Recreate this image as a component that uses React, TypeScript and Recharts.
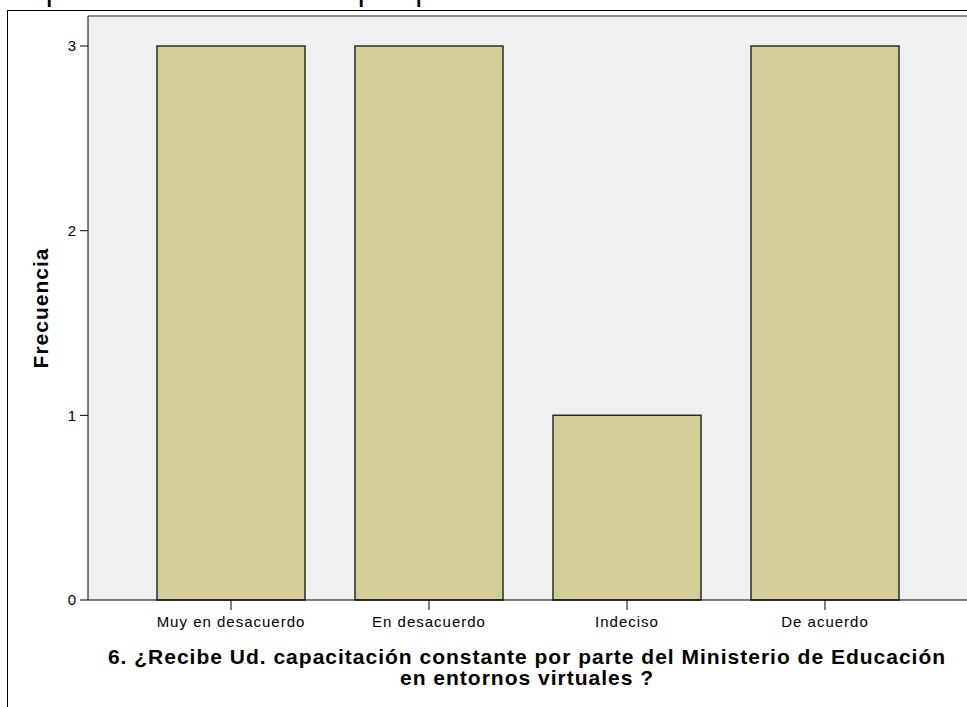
import React from "react";
import { BarChart, Bar, XAxis, YAxis, CartesianGrid, ReferenceLine, Customized } from "recharts";

const categories = ["Muy en desacuerdo", "En desacuerdo", "Indeciso", "De acuerdo"];
const frequencies = [3, 3, 1, 3];
const yTicks = [0, 1, 2, 3];
const yMax = 3.1625;
const topTitle = "Capacitación constante por parte del Ministerio de Educación";
const xTitleLines = [
  "6. ¿Recibe Ud. capacitación constante por parte del Ministerio de Educación",
  "en entornos virtuales ?",
];
const yTitle = "Frecuencia";

const data = categories.map((c, i) => ({ name: c, value: frequencies[i] }));

const FONT = "'Liberation Sans', Arial, Helvetica, sans-serif";

const XTitle = (props: any) => {
  const vb = props.viewBox || {};
  const cx = vb.x + vb.width / 2 - 1;
  return (
    <g>
      {xTitleLines.map((t, i) => (
        <text
          key={i}
          x={cx}
          y={vb.y + 64 + i * 21}
          textAnchor="middle"
          fontFamily={FONT}
          fontWeight="bold"
          fontSize={21}
          letterSpacing={1}
          fill="#000"
        >
          {t}
        </text>
      ))}
    </g>
  );
};

const YTitle = (props: any) => {
  const vb = props.viewBox || {};
  const x = vb.x + 48;
  const y = vb.y + vb.height / 2;
  return (
    <text
      x={x}
      y={y}
      transform={`rotate(-90 ${x} ${y})`}
      textAnchor="middle"
      fontFamily={FONT}
      fontWeight="bold"
      fontSize={21}
      letterSpacing={1}
      fill="#000"
    >
      {yTitle}
    </text>
  );
};

const TopTitle = () => (
  <text x={4} y={0} fontFamily={FONT} fontSize={31} letterSpacing={1} fill="#000">
    {topTitle}
  </text>
);

export default function App() {
  return (
    <div
      style={{
        position: "absolute",
        left: 0,
        top: 0,
        width: 967,
        height: 707,
        overflow: "hidden",
        background: "#fff",
      }}
    >
      <div
        style={{
          position: "absolute",
          left: 7,
          top: 10,
          width: 1000,
          height: 800,
          borderTop: "1px solid #000",
          borderLeft: "1px solid #000",
        }}
      />
      <div style={{ position: "absolute", left: 0, top: 0 }}>
        <BarChart
          width={968}
          height={707}
          data={data}
          margin={{ top: 16, right: 0, left: 0, bottom: 0 }}
          barCategoryGap={25}
          style={{ overflow: "visible" }}
        >
          <CartesianGrid fill="#f0f0f0" horizontal={false} vertical={false} stroke="none" />
          <ReferenceLine y={yMax} stroke="#8c8c8c" strokeWidth={2} ifOverflow="extendDomain" />
          <XAxis
            dataKey="name"
            padding={{ left: 44, right: 44 }}
            height={107}
            tickSize={10}
            tickMargin={6}
            axisLine={{ stroke: "#000", strokeWidth: 1 }}
            tickLine={{ stroke: "#000", strokeWidth: 1 }}
            tick={{ fill: "#000", fontSize: 15, fontFamily: FONT, letterSpacing: 1 }}
            interval={0}
            label={<XTitle />}
          />
          <YAxis
            width={88}
            domain={[0, yMax]}
            ticks={yTicks}
            allowDecimals={false}
            tickSize={8}
            tickMargin={4}
            axisLine={{ stroke: "#000", strokeWidth: 1 }}
            tickLine={{ stroke: "#000", strokeWidth: 1 }}
            tick={{ fill: "#000", fontSize: 15, fontFamily: FONT }}
            label={<YTitle />}
          />
          <Bar
            dataKey="value"
            fill="#d3ce97"
            stroke="#2b2b2b"
            strokeWidth={1.5}
            isAnimationActive={false}
          />
          <Customized component={TopTitle} />
        </BarChart>
      </div>
    </div>
  );
}
